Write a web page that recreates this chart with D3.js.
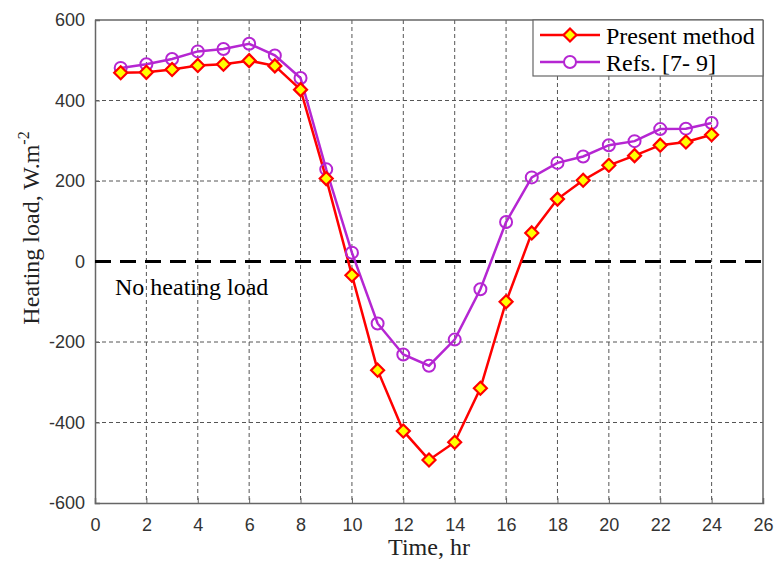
<!DOCTYPE html>
<html><head><meta charset="utf-8">
<script src="https://cdn.jsdelivr.net/npm/d3@7"></script>
<style>body{margin:0;background:#fff}</style>
</head><body>
<svg id="c" width="776" height="562"></svg>
<script>
const hours = [1,2,3,4,5,6,7,8,9,10,11,12,13,14,15,16,17,18,19,20,21,22,23,24];
const presentMethod = [469,470,477,487,490,499,486,427,206,-34,-270,-421,-493,-449,-315,-100,71,155,202,239,263,289,297,315];
const refs79 = [481,490,503,522,528,541,512,456,229,22,-154,-231,-259,-194,-69,98,209,245,261,289,299,329,330,344];
const xTicks = [0,2,4,6,8,10,12,14,16,18,20,22,24,26];
const yTicks = [-600,-400,-200,0,200,400,600];
const seriesNames = ["Present method","Refs. [7- 9]"];

const svg = d3.select("#c");
const L=95, R=763, T=20, B=503;
const x = d3.scaleLinear().domain([0,26]).range([L,R]);
const y = d3.scaleLinear().domain([-600,600]).range([B,T]);
const gridCol="#555", axisCol="#666";
const fmt = d => String(d);

// grid
svg.append("g").selectAll("line").data(xTicks.slice(1,-1)).join("line")
  .attr("x1",d=>x(d)).attr("x2",d=>x(d)).attr("y1",T).attr("y2",B)
  .attr("stroke",gridCol).attr("stroke-width",1).attr("stroke-dasharray","4,3");
svg.append("g").selectAll("line").data(yTicks.filter(d=>d!==0&&d!==600&&d!==-600)).join("line")
  .attr("x1",L).attr("x2",R).attr("y1",d=>y(d)).attr("y2",d=>y(d))
  .attr("stroke",gridCol).attr("stroke-width",1).attr("stroke-dasharray","4,3");

// axes
const xa = svg.append("g").attr("transform",`translate(0,${B})`)
  .call(d3.axisBottom(x).tickValues(xTicks).tickFormat(fmt).tickSize(-5).tickPadding(12));
const ya = svg.append("g").attr("transform",`translate(${L},0)`)
  .call(d3.axisLeft(y).tickValues(yTicks).tickFormat(fmt).tickSize(-5).tickPadding(10));
[xa,ya].forEach(a=>{
  a.select(".domain").attr("stroke",axisCol).attr("stroke-width",1.5);
  a.selectAll(".tick line").attr("stroke",axisCol);
  a.selectAll("text").attr("font-family","Liberation Sans, Arial, sans-serif")
   .attr("font-size",18).attr("fill","#333");
});
xa.selectAll("text").attr("dy",null).attr("y",28);
svg.append("line").attr("x1",L).attr("x2",R).attr("y1",T).attr("y2",T).attr("stroke",axisCol).attr("stroke-width",1.5);
svg.append("line").attr("x1",R).attr("x2",R).attr("y1",T).attr("y2",B).attr("stroke",axisCol).attr("stroke-width",1.5);

// zero line
svg.append("line").attr("x1",L).attr("x2",R).attr("y1",y(0)).attr("y2",y(0))
  .attr("stroke","#000").attr("stroke-width",3).attr("stroke-dasharray","16,9");

// series
const line = d3.line().x((d,i)=>x(hours[i])).y(d=>y(d));
svg.append("path").datum(refs79).attr("d",line).attr("fill","none").attr("stroke","#b526d2").attr("stroke-width",2.5);
svg.append("path").datum(presentMethod).attr("d",line).attr("fill","none").attr("stroke","#ff0000").attr("stroke-width",2.5);
const diamond = (cx,cy,s)=>`M${cx},${cy-s}L${cx+s},${cy}L${cx},${cy+s}L${cx-s},${cy}Z`;
svg.append("g").selectAll("circle").data(refs79).join("circle")
  .attr("cx",(d,i)=>x(hours[i])).attr("cy",d=>y(d)).attr("r",6)
  .attr("fill","none").attr("stroke","#b526d2").attr("stroke-width",2);
svg.append("g").selectAll("path").data(presentMethod).join("path")
  .attr("d",(d,i)=>diamond(x(hours[i]),y(d),6.5))
  .attr("fill","#ffff00").attr("stroke","#ff0000").attr("stroke-width",2.2);

// legend
const serif="Liberation Serif, Times New Roman, serif";
const lg = svg.append("g");
lg.append("rect").attr("x",533).attr("y",T).attr("width",R-533).attr("height",56)
  .attr("fill","#fff").attr("stroke",axisCol).attr("stroke-width",1.2);
const ly=[35,62];
lg.append("line").attr("x1",540).attr("x2",600).attr("y1",ly[0]).attr("y2",ly[0]).attr("stroke","#ff0000").attr("stroke-width",2.5);
lg.append("path").attr("d",diamond(570,ly[0],6.5)).attr("fill","#ffff00").attr("stroke","#ff0000").attr("stroke-width",2.2);
lg.append("line").attr("x1",540).attr("x2",600).attr("y1",ly[1]).attr("y2",ly[1]).attr("stroke","#b526d2").attr("stroke-width",2.5);
lg.append("circle").attr("cx",570).attr("cy",ly[1]).attr("r",6).attr("fill","#fff").attr("stroke","#b526d2").attr("stroke-width",2);
lg.selectAll("text").data(seriesNames).join("text")
  .attr("x",606).attr("y",(d,i)=>ly[i]+8.5).text(d=>d)
  .attr("font-family",serif).attr("font-size",24).attr("fill","#000");

// labels
svg.append("text").attr("x",115).attr("y",295).text("No heating load")
  .attr("font-family",serif).attr("font-size",24).attr("fill","#000");
svg.append("text").attr("x",(L+R)/2).attr("y",555).attr("text-anchor","middle").text("Time, hr")
  .attr("font-family",serif).attr("font-size",24).attr("fill","#222");
const yl = svg.append("text").attr("transform",`translate(39,228) rotate(-90)`).attr("text-anchor","middle")
  .attr("font-family",serif).attr("font-size",24).attr("fill","#222");
yl.append("tspan").text("Heating load, W.m");
yl.append("tspan").text("-2").attr("dy",-10).attr("font-size",16);
</script>
</body></html>
